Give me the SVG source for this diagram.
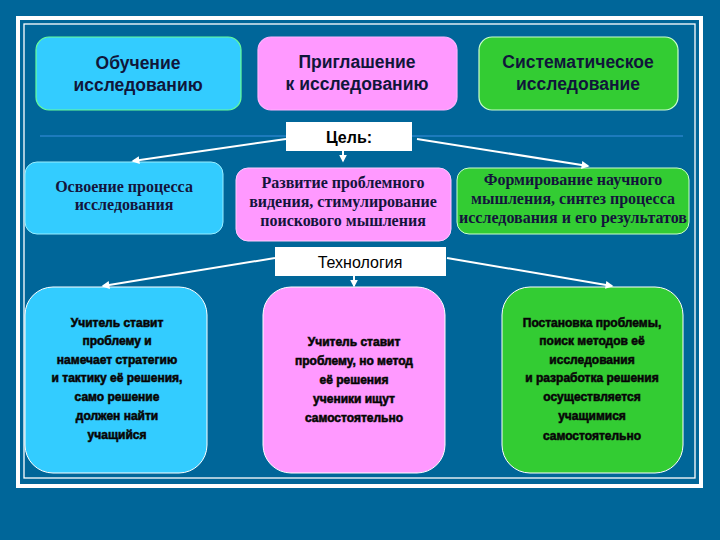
<svg xmlns="http://www.w3.org/2000/svg" width="720" height="540" viewBox="0 0 720 540">
<defs>
<style>
.top{font-family:"Liberation Sans",Arial,sans-serif;font-size:17.5px;font-weight:bold;fill:#10163a;text-anchor:middle}
.mid{font-family:"Liberation Serif","Times New Roman",serif;font-size:16px;font-weight:bold;fill:#14143c;text-anchor:middle}
.bot{font-family:"Liberation Sans",Arial,sans-serif;font-size:12px;font-weight:bold;fill:#000;stroke:#111;stroke-width:0.6;text-anchor:middle}
.lbl{font-family:"Liberation Sans",Arial,sans-serif;font-size:16px;fill:#000;text-anchor:middle}
.conn{stroke:#fff;stroke-width:2;fill:none}
</style>
<marker id="ah" viewBox="0 0 10 10" refX="8" refY="5" markerWidth="4" markerHeight="4" orient="auto">
<path d="M0,0 L10,5 L0,10 z" fill="#fff"/>
</marker>
</defs>
<rect x="0" y="0" width="720" height="540" fill="#006699"/>
<rect x="18" y="18" width="683" height="468" fill="none" stroke="#fff" stroke-width="4"/>
<rect x="24" y="24" width="671" height="454" fill="none" stroke="#fff" stroke-width="1.3"/>
<line x1="40" y1="136" x2="683" y2="136" stroke="#3a8fe0" stroke-width="1"/>

<g id="n1"><rect x="36" y="37" width="205" height="73" rx="13" fill="#33ccff" stroke="#66ff99" stroke-width="1.2"/>
<text class="top" x="138" y="69">Обучение</text><text class="top" x="138" y="91">исследованию</text></g>
<g id="n2"><rect x="258" y="37" width="199" height="73" rx="13" fill="#ff99ff" stroke="#ffb3ff" stroke-width="1.2"/>
<text class="top" x="357" y="68">Приглашение</text><text class="top" x="357" y="90">к исследованию</text></g>
<g id="n3"><rect x="479" y="37" width="199" height="73" rx="13" fill="#33cc33" stroke="#ccffcc" stroke-width="1.2"/>
<text class="top" x="578" y="68">Систематическое</text><text class="top" x="578" y="90">исследование</text></g>

<g id="goal"><rect x="286" y="122" width="126" height="29" fill="#fff"/>
<text class="lbl" x="349" y="143" font-weight="bold">Цель:</text></g>

<g id="m1"><rect x="25" y="162" width="198" height="72" rx="12" fill="#33ccff" stroke="#99eeff" stroke-width="1"/>
<text class="mid" x="124" y="192">Освоение процесса</text><text class="mid" x="124" y="210">исследования</text></g>
<g id="m2"><rect x="236" y="168" width="215" height="73" rx="12" fill="#ff99ff" stroke="#ffccff" stroke-width="1"/>
<text class="mid" x="343" y="188">Развитие проблемного</text><text class="mid" x="343" y="207">видения, стимулирование</text><text class="mid" x="343" y="226">поискового мышления</text></g>
<g id="m3"><rect x="457" y="168" width="232" height="66" rx="12" fill="#33cc33" stroke="#ccffcc" stroke-width="1"/>
<text class="mid" x="573" y="185">Формирование научного</text><text class="mid" x="573" y="204">мышления, синтез процесса</text><text class="mid" x="573" y="223">исследования и его результатов</text></g>

<g id="tech"><rect x="275" y="247" width="171" height="29" fill="#fff"/>
<text class="lbl" x="360" y="268">Технология</text></g>

<g id="b1"><rect x="25" y="287" width="182" height="186" rx="28" fill="#33ccff" stroke="#fff" stroke-width="1"/>
<text class="bot" x="117" y="327">Учитель ставит</text><text class="bot" x="117" y="345">проблему и</text><text class="bot" x="117" y="364">намечает стратегию</text><text class="bot" x="117" y="382">и тактику её решения,</text><text class="bot" x="117" y="401">само решение</text><text class="bot" x="117" y="420">должен найти</text><text class="bot" x="117" y="439">учащийся</text></g>
<g id="b2"><rect x="263" y="287" width="182" height="186" rx="28" fill="#ff99ff" stroke="#fff" stroke-width="1"/>
<text class="bot" x="354" y="346">Учитель ставит</text><text class="bot" x="354" y="365">проблему, но метод</text><text class="bot" x="354" y="384">её решения</text><text class="bot" x="354" y="403">ученики ищут</text><text class="bot" x="354" y="422">самостоятельно</text></g>
<g id="b3"><rect x="502" y="287" width="181" height="186" rx="28" fill="#33cc33" stroke="#fff" stroke-width="1"/>
<text class="bot" x="592" y="327">Постановка проблемы,</text><text class="bot" x="592" y="345">поиск методов её</text><text class="bot" x="592" y="364">исследования</text><text class="bot" x="592" y="382">и разработка решения</text><text class="bot" x="592" y="401">осуществляется</text><text class="bot" x="592" y="420">учащимися</text><text class="bot" x="592" y="440">самостоятельно</text></g>

<g id="connectors">
<line class="conn" x1="286" y1="139" x2="133" y2="161" marker-end="url(#ah)"/>
<line class="conn" x1="343" y1="151" x2="343" y2="161" marker-end="url(#ah)"/>
<line class="conn" x1="417" y1="139" x2="588" y2="166" marker-end="url(#ah)"/>
<line class="conn" x1="275" y1="258" x2="103" y2="286" marker-end="url(#ah)"/>
<line class="conn" x1="354" y1="276" x2="354" y2="286" marker-end="url(#ah)"/>
<line class="conn" x1="447" y1="258" x2="612" y2="286" marker-end="url(#ah)"/>
</g>
</svg>
